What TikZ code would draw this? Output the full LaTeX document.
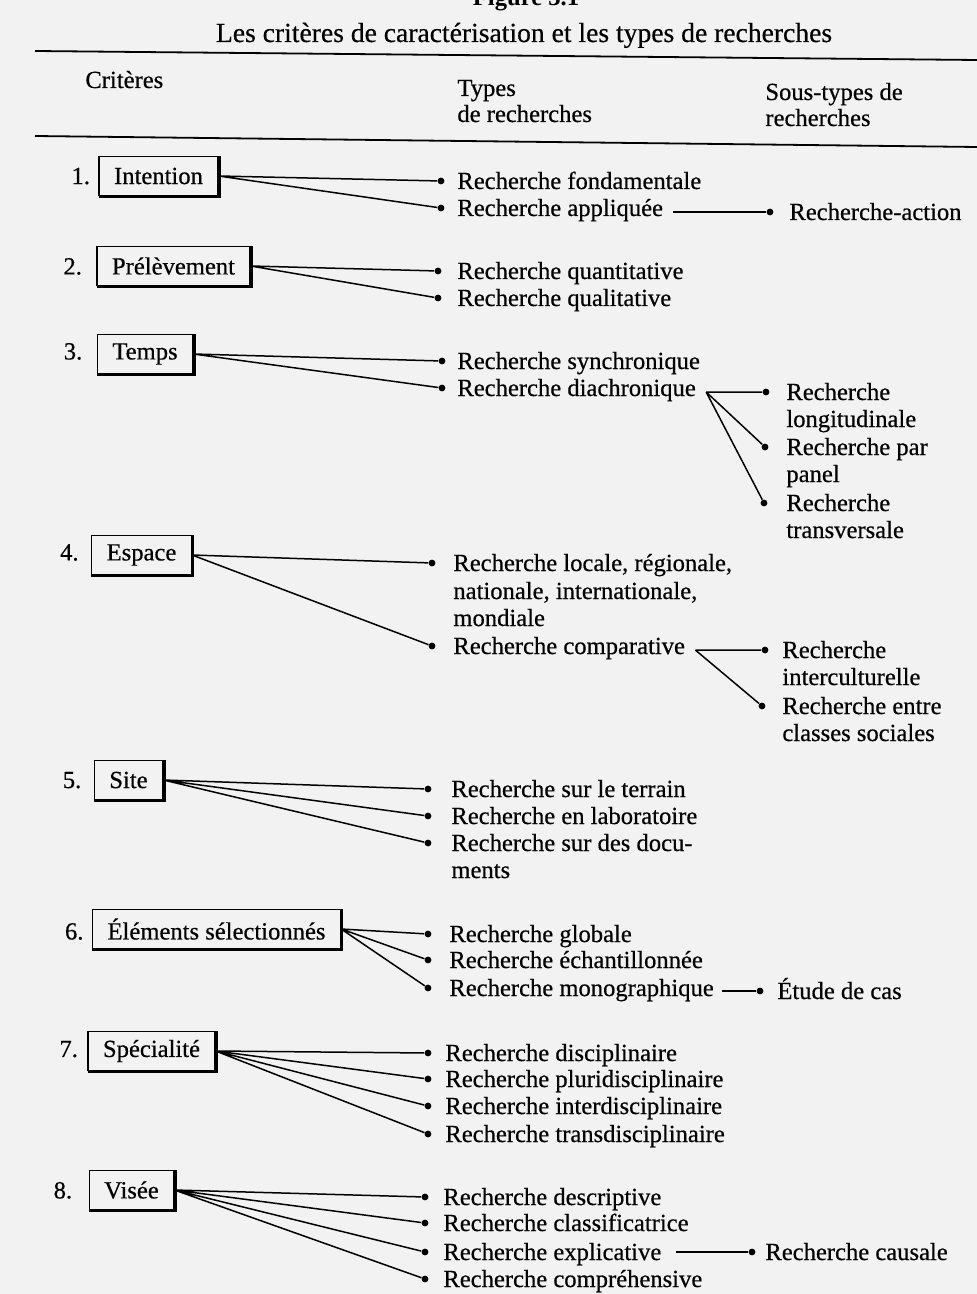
\documentclass[tikz,border=0pt]{standalone}
\usepackage{fontspec}
\setmainfont{Liberation Serif}[UprightFeatures={FakeBold=0.5}]
\begin{document}
\begin{tikzpicture}[x=0.5pt,y=-0.5pt,
  font=\fontsize{12.3}{14}\selectfont,
  critbox/.style={draw, line width=0.7pt, inner xsep=7.5pt, inner ysep=0pt, minimum height=19.5pt},
  dotn/.style={circle, fill, inner sep=0pt, minimum size=3.4pt},
  lbl/.style={anchor=base west, inner sep=0pt, yshift=-4pt},
  hdr/.style={anchor=base west, inner sep=0pt},
  num/.style={anchor=base east, inner sep=0pt},
  conn/.style={line width=0.75pt},
  rule/.style={line width=0.9pt}]
\fill[black!5] (0,0) rectangle (977,1294);
\useasboundingbox (0,0) rectangle (977,1294);
\clip (0,0) rectangle (977,1294);

% title and headers
\node[anchor=base, inner sep=0pt, font=\bfseries\fontsize{12.3}{14}\selectfont] (fig) at (526,6) {Figure 3.1};
\node[anchor=base, inner sep=0pt, font=\fontsize{13.8}{16}\selectfont] (title) at (524,42) {Les critères de caractérisation et les types de recherches};
\coordinate (r1a) at (35,51); \coordinate (r1b) at (977,60);
\draw[rule] (r1a) -- (r1b);
\node[hdr] (h1) at (85,88) {Critères};
\node[hdr] (h2a) at (457,96) {Types};
\node[hdr] (h2b) at (457,122) {de recherches};
\node[hdr] (h3a) at (765,100) {Sous-types de};
\node[hdr] (h3b) at (765,126) {recherches};
\coordinate (r2a) at (35,136); \coordinate (r2b) at (977,147);
\draw[rule] (r2a) -- (r2b);

% boxes
\node[critbox] (b1) at (158.5,176) {Intention};
\node[critbox] (b2) at (173.5,266) {Prélèvement};
\node[critbox] (b3) at (145,354) {Temps};
\node[critbox] (b4) at (141.5,555) {Espace};
\node[critbox] (b5) at (128.5,780) {Site};
\node[critbox] (b6) at (216.5,929) {Éléments sélectionnés};
\node[critbox] (b7) at (151.5,1051) {Spécialité};
\node[critbox] (b8) at (131.5,1190) {Visée};
\foreach \i in {1,...,8}
  \draw[line width=1.3pt] ([xshift=0.2pt,yshift=-0.45pt]b\i.south west) -- ([xshift=0.45pt,yshift=-0.45pt]b\i.south east) -- ([xshift=0.45pt,yshift=-0.2pt]b\i.north east);

\node[num] (n1) at ([xshift=-4pt]b1.base west) {1.};
\node[num] (n2) at ([xshift=-7pt]b2.base west) {2.};
\node[num] (n3) at ([xshift=-7pt]b3.base west) {3.};
\node[num] (n4) at ([xshift=-6pt]b4.base west) {4.};
\node[num] (n5) at ([xshift=-6pt]b5.base west) {5.};
\node[num] (n6) at ([xshift=-4pt]b6.base west) {6.};
\node[num] (n7) at ([xshift=-4.5pt]b7.base west) {7.};
\node[num] (n8) at ([xshift=-8pt]b8.base west) {8.};

% 1 Intention
\node[dotn] (d11) at (441,181) {};
\node[dotn] (d12) at (441,208) {};
\node[lbl] (t11) at (457,181) {Recherche fondamentale};
\node[lbl] (t12) at (457,208) {Recherche appliquée};
\node[dotn] (s11) at (770,212) {};
\node[lbl] (u11) at (789,212) {Recherche-action};
\draw[conn] (b1.east) -- (d11) (b1.east) -- (d12);
\draw[conn] ([xshift=5pt]t12.east |- s11) -- (s11);

% 2 Prélèvement
\node[dotn] (d21) at (438,271) {};
\node[dotn] (d22) at (438,298) {};
\node[lbl] (t21) at (457,271) {Recherche quantitative};
\node[lbl] (t22) at (457,298) {Recherche qualitative};
\draw[conn] (b2.east) -- (d21) (b2.east) -- (d22);

% 3 Temps
\node[dotn] (d31) at (442,361) {};
\node[dotn] (d32) at (442,388) {};
\node[lbl] (t31) at (457,361) {Recherche synchronique};
\node[lbl] (t32) at (457,388) {Recherche diachronique};
\node[dotn] (s31) at (766,392) {};
\node[dotn] (s32) at (765,447) {};
\node[dotn] (s33) at (764,503) {};
\coordinate (f3) at ([xshift=5pt]t32.east |- s31);
\node[lbl] (u31) at (786,392) {Recherche};
\node[lbl] (u31b) at (786,419) {longitudinale};
\node[lbl] (u32) at (786,447) {Recherche par};
\node[lbl] (u32b) at (786,474) {panel};
\node[lbl] (u33) at (786,503) {Recherche};
\node[lbl] (u33b) at (786,530) {transversale};
\draw[conn] (b3.east) -- (d31) (b3.east) -- (d32);
\draw[conn] (f3) -- (s31) (f3) -- (s32) (f3) -- (s33);

% 4 Espace
\node[dotn] (d41) at (432,563) {};
\node[dotn] (d42) at (432,646) {};
\node[lbl] (t41) at (453,563) {Recherche locale, régionale,};
\node[lbl] (t41b) at (453,591) {nationale, internationale,};
\node[lbl] (t41c) at (453,618) {mondiale};
\node[lbl] (t42) at (453,646) {Recherche comparative};
\node[dotn] (s41) at (765,650) {};
\node[dotn] (s42) at (762,706) {};
\coordinate (f4) at ([xshift=5pt]t42.east |- s41);
\node[lbl] (u41) at (782,650) {Recherche};
\node[lbl] (u41b) at (782,677) {interculturelle};
\node[lbl] (u42) at (782,706) {Recherche entre};
\node[lbl] (u42b) at (782,733) {classes sociales};
\draw[conn] (b4.east) -- (d41) (b4.east) -- (d42);
\draw[conn] (f4) -- (s41) (f4) -- (s42);

% 5 Site
\node[dotn] (d51) at (428,789) {};
\node[dotn] (d52) at (428,816) {};
\node[dotn] (d53) at (428,843) {};
\node[lbl] (t51) at (451,789) {Recherche sur le terrain};
\node[lbl] (t52) at (451,816) {Recherche en laboratoire};
\node[lbl] (t53) at (451,843) {Recherche sur des docu-};
\node[lbl] (t53b) at (451,870) {ments};
\draw[conn] (b5.east) -- (d51) (b5.east) -- (d52) (b5.east) -- (d53);

% 6 Éléments sélectionnés
\node[dotn] (d61) at (428,934) {};
\node[dotn] (d62) at (428,960) {};
\node[dotn] (d63) at (428,988) {};
\node[lbl] (t61) at (449,934) {Recherche globale};
\node[lbl] (t62) at (449,960) {Recherche échantillonnée};
\node[lbl] (t63) at (449,988) {Recherche monographique};
\node[dotn] (s61) at (760,991) {};
\node[lbl] (u61) at (777,991) {Étude de cas};
\draw[conn] (b6.east) -- (d61) (b6.east) -- (d62) (b6.east) -- (d63);
\draw[conn] ([xshift=4pt]t63.east |- s61) -- (s61);

% 7 Spécialité
\node[dotn] (d71) at (428,1053) {};
\node[dotn] (d72) at (428,1079) {};
\node[dotn] (d73) at (428,1106) {};
\node[dotn] (d74) at (428,1134) {};
\node[lbl] (t71) at (445,1053) {Recherche disciplinaire};
\node[lbl] (t72) at (445,1079) {Recherche pluridisciplinaire};
\node[lbl] (t73) at (445,1106) {Recherche interdisciplinaire};
\node[lbl] (t74) at (445,1134) {Recherche transdisciplinaire};
\draw[conn] (b7.east) -- (d71) (b7.east) -- (d72) (b7.east) -- (d73) (b7.east) -- (d74);

% 8 Visée
\node[dotn] (d81) at (425,1197) {};
\node[dotn] (d82) at (425,1223) {};
\node[dotn] (d83) at (425,1252) {};
\node[dotn] (d84) at (425,1279) {};
\node[lbl] (t81) at (443,1197) {Recherche descriptive};
\node[lbl] (t82) at (443,1223) {Recherche classificatrice};
\node[lbl] (t83) at (443,1252) {Recherche explicative};
\node[lbl] (t84) at (443,1279) {Recherche compréhensive};
\node[dotn] (s81) at (752,1252) {};
\node[lbl] (u81) at (765,1252) {Recherche causale};
\draw[conn] (b8.east) -- (d81) (b8.east) -- (d82) (b8.east) -- (d83) (b8.east) -- (d84);
\draw[conn] ([xshift=7pt]t83.east |- s81) -- (s81);
\end{tikzpicture}
\end{document}
